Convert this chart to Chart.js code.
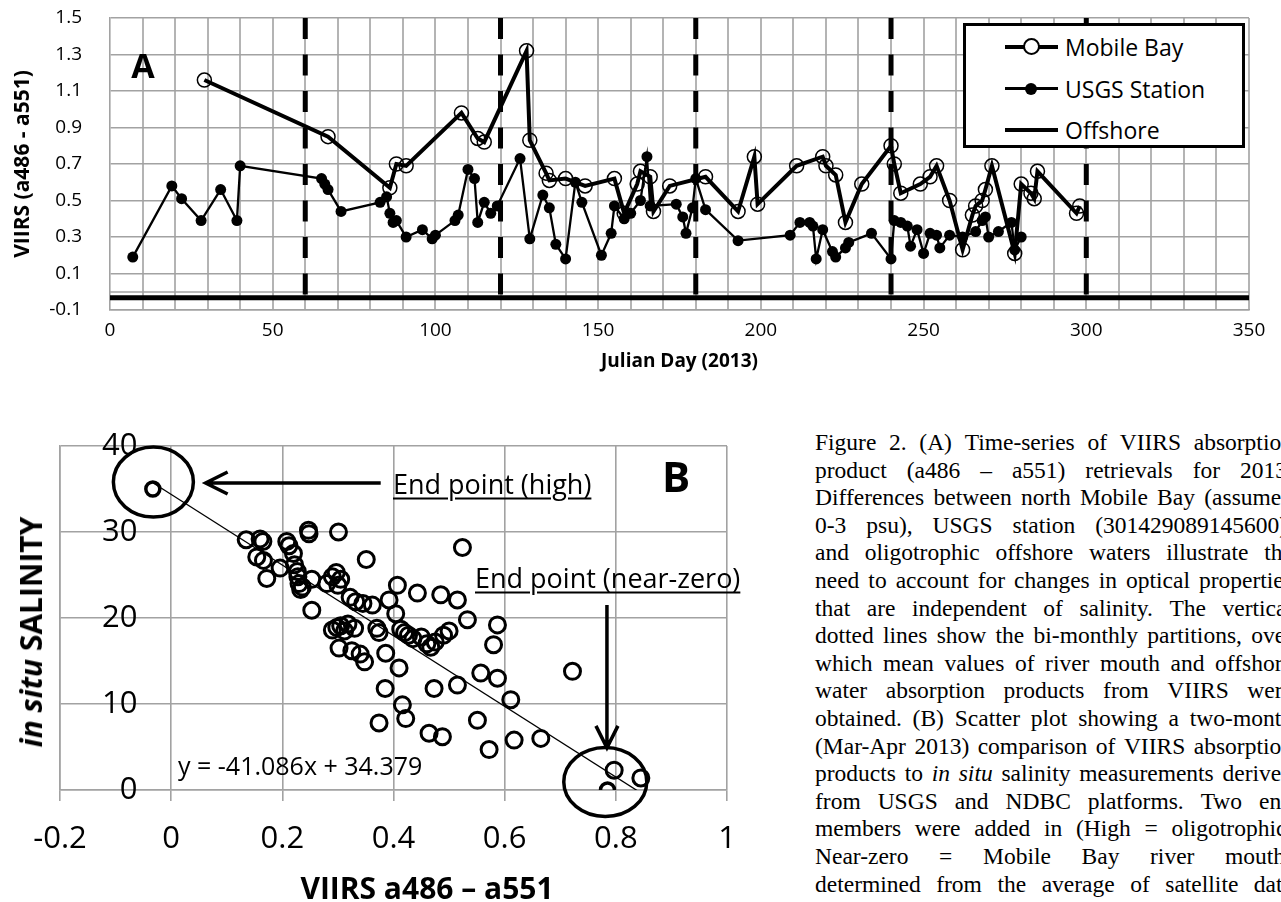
<!DOCTYPE html>
<html>
<head>
<meta charset="utf-8">
<script src="https://cdn.jsdelivr.net/npm/chart.js@4.4.0/dist/chart.umd.min.js"></script>
<style>
  body { margin: 0; width: 1281px; height: 902px; overflow: hidden; background: #fff; position: relative; font-family: "Open Sans", sans-serif; color: #000; }
  canvas { position: absolute; left: 0; }
  #chartA { top: 0; }
  #chartB { top: 400px; }
  .lbl { position: absolute; white-space: nowrap; line-height: 1; }
  #legendA { position: absolute; left: 963px; top: 23px; width: 282px; height: 125px; box-sizing: border-box; border: 3px solid #000; background: #fff; }
  .leg-row { position: absolute; left: 0; width: 100%; height: 30px; }
  .leg-line { position: absolute; left: 39px; width: 53px; background: #000; }
  .leg-dot { position: absolute; border-radius: 50%; box-sizing: border-box; }
  .leg-text { position: absolute; left: 99px; top: 0; font-size: 23px; line-height: 30px; }
  #caption { position: absolute; left: 815px; top: 429px; font-family: "Liberation Serif", serif; font-size: 23.5px; }
  .cap-line { display: flex; justify-content: space-between; width: 478px; height: 27.6px; line-height: 27.6px; white-space: nowrap; }
</style>
</head>
<body>
<canvas id="chartA" width="1281" height="380"></canvas>
<canvas id="chartB" width="780" height="502"></canvas>

<div class="lbl" style="left:143px; top:65px; transform:translate(-50%,-50%); font-weight:700; font-size:34px;">A</div>

<div id="legendA">
  <div class="leg-row" style="top:6px;">
    <div class="leg-line" style="top:13px; height:4px;"></div>
    <div class="leg-dot" style="left:57px; top:6px; width:17px; height:17px; border:2px solid #000; background:#fff;"></div>
    <div class="leg-text">Mobile Bay</div>
  </div>
  <div class="leg-row" style="top:48px;">
    <div class="leg-line" style="top:13px; height:3px;"></div>
    <div class="leg-dot" style="left:59px; top:9px; width:12px; height:12px; background:#000;"></div>
    <div class="leg-text">USGS Station</div>
  </div>
  <div class="leg-row" style="top:89px;">
    <div class="leg-line" style="top:13px; height:4px;"></div>
    <div class="leg-text">Offshore</div>
  </div>
</div>

<div class="lbl" style="left:31px; top:632px; transform:translate(-50%,-50%) rotate(-90deg); font-weight:700; font-size:30px;"><i>in situ</i> SALINITY</div>
<div class="lbl" style="left:427px; top:888px; transform:translate(-50%,-50%); font-weight:700; font-size:30px;">VIIRS a486 – a551</div>
<div class="lbl" style="left:393px; top:483px; transform:translateY(-50%); font-size:27px; text-decoration:underline; text-underline-offset:4px;">End point (high)</div>
<div class="lbl" style="left:475px; top:577px; transform:translateY(-50%); font-size:27px; text-decoration:underline; text-underline-offset:4px;">End point (near-zero)</div>
<div class="lbl" style="left:676px; top:476px; transform:translate(-50%,-50%); font-weight:700; font-size:42px;">B</div>
<div class="lbl" style="left:178px; top:765px; transform:translateY(-50%); font-size:25px;">y = -41.086x + 34.379</div>

<div id="caption"></div>

<script>
// ---- panel A: VIIRS absorption time series (Julian day, a486 - a551)
const mbDays = [29, 67, 86, 88, 91, 108, 113, 115, 128, 129, 134, 135, 140, 146, 155, 158, 162, 163, 166, 167,
  172, 183, 193, 198, 199, 211, 219, 220, 223, 226, 231, 240, 241, 243, 249, 252, 254, 258, 262, 265,
  266, 268, 269, 271, 278, 280, 283, 284, 285, 297, 298];
const mbValues = [1.16, 0.85, 0.57, 0.70, 0.69, 0.98, 0.84, 0.82, 1.32, 0.83, 0.65, 0.61, 0.62, 0.58, 0.62, 0.43, 0.59, 0.66, 0.63, 0.44,
  0.58, 0.63, 0.44, 0.74, 0.48, 0.69, 0.74, 0.69, 0.64, 0.38, 0.59, 0.80, 0.70, 0.54, 0.59, 0.63, 0.69, 0.50, 0.23, 0.42,
  0.47, 0.50, 0.56, 0.69, 0.21, 0.59, 0.54, 0.51, 0.66, 0.43, 0.47];

const usgsDays = [7, 19, 22, 28, 34, 39, 40, 65, 66, 67, 71, 83, 85, 86, 87, 88, 91, 96, 99, 100,
  106, 107, 110, 112, 113, 115, 117, 119, 126, 129, 133, 135, 137, 140, 143, 145, 151, 154, 155, 158,
  160, 163, 165, 166, 174, 176, 177, 179, 180, 183, 193, 209, 212, 215, 216, 217, 219, 222, 223, 226,
  227, 234, 240, 241, 243, 245, 246, 248, 250, 252, 254, 255, 258, 262, 266, 268, 269, 270, 273, 277,
  278, 280];
const usgsValues = [0.19, 0.58, 0.51, 0.39, 0.56, 0.39, 0.69, 0.62, 0.59, 0.56, 0.44, 0.49, 0.52, 0.43, 0.38, 0.39, 0.30, 0.34, 0.29, 0.31,
  0.39, 0.42, 0.67, 0.62, 0.38, 0.49, 0.43, 0.47, 0.73, 0.29, 0.53, 0.46, 0.26, 0.18, 0.60, 0.49, 0.20, 0.32, 0.47, 0.40,
  0.43, 0.50, 0.74, 0.47, 0.48, 0.41, 0.32, 0.46, 0.62, 0.45, 0.28, 0.31, 0.38, 0.38, 0.36, 0.18, 0.34, 0.22, 0.19, 0.24,
  0.27, 0.32, 0.18, 0.39, 0.38, 0.36, 0.25, 0.34, 0.21, 0.32, 0.31, 0.24, 0.31, 0.30, 0.33, 0.39, 0.41, 0.30, 0.33, 0.38,
  0.23, 0.30];

const offshoreDays = [0, 350];
const offshoreValues = [-0.033, -0.033];

const partitionDays = [60, 120, 180, 240, 300];   // bi-monthly partitions (dashed)

const dayTickLabels = [0, 50, 100, 150, 200, 250, 300, 350];
const viirsTicks = [-0.1, 0.1, 0.3, 0.5, 0.7, 0.9, 1.1, 1.3, 1.5];

// ---- panel B: salinity vs VIIRS a486 - a551 (Mar-Apr 2013)
const salinityX = [0.135, 0.160, 0.165, 0.154, 0.166, 0.172, 0.196, 0.208, 0.212, 0.220,
  0.222, 0.227, 0.230, 0.233, 0.228, 0.236, 0.247, 0.248, 0.253, 0.253,
  0.280, 0.290, 0.297, 0.300, 0.305, 0.301, 0.290, 0.298, 0.305, 0.312,
  0.318, 0.330, 0.302, 0.325, 0.340, 0.348, 0.322, 0.332, 0.345, 0.362,
  0.351, 0.370, 0.374, 0.386, 0.392, 0.404, 0.407, 0.410, 0.413, 0.420,
  0.427, 0.435, 0.443, 0.450, 0.460, 0.467, 0.475, 0.485, 0.490, 0.500,
  0.515, 0.524, 0.533, 0.580, 0.587, 0.557, 0.587, 0.473, 0.515, 0.611,
  0.722, 0.374, 0.416, 0.422, 0.551, 0.464, 0.488, 0.572, 0.617, 0.665,
  0.385, 0.797, 0.845];
const salinityY = [29.1, 29.2, 28.9, 27.1, 26.7, 24.6, 25.8, 28.9, 28.4, 27.5,
  26.2, 25.4, 24.0, 23.3, 24.8, 23.6, 30.2, 29.8, 24.5, 20.9,
  24.0, 24.8, 25.3, 23.8, 24.5, 30.0, 18.6, 18.9, 19.1, 18.5,
  19.3, 18.8, 16.5, 16.2, 15.8, 14.9, 22.4, 21.9, 21.7, 21.5,
  26.8, 18.8, 18.3, 15.9, 22.1, 20.5, 23.8, 14.2, 18.7, 18.3,
  18.0, 17.6, 22.9, 17.8, 17.0, 16.6, 17.2, 22.7, 18.0, 18.5,
  22.1, 28.2, 19.8, 16.9, 19.2, 13.6, 13.0, 11.8, 12.2, 10.5,
  13.8, 7.8, 9.9, 8.3, 8.1, 6.6, 6.2, 4.7, 5.8, 6.0,
  11.8, 2.3, 1.4];
const endMemberX = [-0.033, 0.785];   // high (oligotrophic), near-zero (river mouth)
const endMemberY = [35.0, 0.0];
const trendSlope = -41.086;
const trendIntercept = 34.379;

const viirsBTicks = [-0.2, 0, 0.2, 0.4, 0.6, 0.8, 1];
const salinityTicks = [0, 10, 20, 30, 40];

// ---- caption
const captionLines = [
  'Figure 2. (A) Time-series of VIIRS absorption',
  'product (a486 – a551) retrievals for 2013.',
  'Differences between north Mobile Bay (assumed',
  '0-3 psu), USGS station (301429089145600),',
  'and oligotrophic offshore waters illustrate the',
  'need to account for changes in optical properties',
  'that are independent of salinity. The vertical',
  'dotted lines show the bi-monthly partitions, over',
  'which mean values of river mouth and offshore',
  'water absorption products from VIIRS were',
  'obtained. (B) Scatter plot showing a two-month',
  '(Mar-Apr 2013) comparison of VIIRS absorption',
  'products to _in _situ salinity measurements derived',
  'from USGS and NDBC platforms. Two end',
  'members were added in (High = oligotrophic;',
  'Near-zero = Mobile Bay river mouth)',
  'determined from the average of satellite data'
];

const cap = document.getElementById('caption');
captionLines.forEach(function (line) {
  var row = document.createElement('div');
  row.className = 'cap-line';
  line.split(' ').forEach(function (w) {
    var s = document.createElement(w[0] === '_' ? 'i' : 'span');
    s.textContent = w[0] === '_' ? w.slice(1) : w;
    row.appendChild(s);
  });
  cap.appendChild(row);
});

const GRID = '#a2a2a2';
const toXY = (xs, ys) => xs.map((x, i) => ({ x: x, y: ys[i] }));

//minor vertical grid (every 10 days) + the zero axis line of the excel chart
const gridA = {
  id: 'gridA',
  beforeDatasetsDraw(chart) {
    const { ctx, chartArea: a, scales: { x, y } } = chart;
    ctx.save();
    ctx.strokeStyle = GRID;
    ctx.lineWidth = 1.6;
    ctx.beginPath();
    for (var d = 10; d <= 350; d += 10) {
      var px = Math.round(x.getPixelForValue(d));
      ctx.moveTo(px, a.top);
      ctx.lineTo(px, a.bottom);
    }
    var py = Math.round(y.getPixelForValue(0));
    ctx.moveTo(a.left, py);
    ctx.lineTo(a.right, py);
    ctx.stroke();
    ctx.restore();
  }
};

var partitionSets = partitionDays.map(function (d) {
  return {
    data: [{ x: d, y: viirsTicks[viirsTicks.length - 1] }, { x: d, y: viirsTicks[0] }],
    showLine: true, borderColor: '#000', borderWidth: 5, borderDash: [21, 15.5],
    pointRadius: 0, order: 5
  };
});

new Chart(document.getElementById('chartA'), {
  type: 'scatter',
  data: {
    datasets: [{
      label: 'Mobile Bay',
      data: toXY(mbDays, mbValues),
      showLine: true, borderColor: '#000', borderWidth: 4,
      pointRadius: 7, pointBorderWidth: 1.5, pointBorderColor: '#000',
      pointBackgroundColor: 'rgba(0,0,0,0)', order: 1
    }, {
      label: 'USGS Station',
      data: toXY(usgsDays, usgsValues),
      showLine: true, borderColor: '#000', borderWidth: 2.3,
      pointRadius: 5.5, pointBorderWidth: 0, pointBackgroundColor: '#000', order: 2
    }, {
      label: 'Offshore',
      data: toXY(offshoreDays, offshoreValues),
      showLine: true, borderColor: '#000', borderWidth: 5, pointRadius: 0, order: 3
    }].concat(partitionSets)
  },
  options: {
    responsive: false,
    animation: false,
    layout: { padding: { top: 18, right: 32, left: 0, bottom: 0 } },
    plugins: { legend: { display: false }, tooltip: { enabled: false } },
    scales: {
      x: {
        type: 'linear', min: 0, max: 350,
        afterBuildTicks: function (scale) {
          scale.ticks = dayTickLabels.map(function (v) { return { value: v }; });
        },
        afterFit: function (scale) { scale.height = 70; },
        grid: { display: false },
        border: { color: GRID, width: 1.6 },
        ticks: {
          autoSkip: false, maxRotation: 0, padding: 1,
          color: '#000', font: { family: 'Open Sans', size: 19 }
        },
        title: {
          display: true, text: 'Julian Day (2013)', color: '#000',
          font: { family: 'Open Sans', size: 19, weight: 'bold' },
          padding: { top: 0, bottom: 7 }
        }
      },
      y: {
        type: 'linear', min: -0.1, max: 1.5,
        afterBuildTicks: function (scale) {
          scale.ticks = viirsTicks.map(function (v) { return { value: v }; });
        },
        afterFit: function (scale) {
          scale.width = 110;
          scale.paddingTop = 0;
          scale.paddingBottom = 0;
        },
        grid: { color: GRID, lineWidth: 1.6, drawTicks: false },
        border: { color: GRID, width: 1.6 },
        ticks: {
          padding: 28, color: '#000', font: { family: 'Open Sans', size: 19 },
          callback: function (v) { return v.toFixed(1); }
        },
        title: {
          display: true, text: 'VIIRS (a486 - a551)', color: '#000',
          font: { family: 'Open Sans', size: 21, weight: 'bold' },
          padding: { top: 10, bottom: 0 }
        }
      }
    }
  },
  plugins: [gridA]
});

// ---- panel B annotations: circled end members and arrows (data units)
const bMarks = {
  id: 'bMarks',
  afterDatasetsDraw(chart) {
    const { ctx, scales: { x, y } } = chart;
    ctx.save();
    ctx.strokeStyle = '#000';
    ctx.lineWidth = 3.5;
    function ellipse(vx, vy, rx, ry) {
      ctx.beginPath();
      ctx.ellipse(x.getPixelForValue(vx), y.getPixelForValue(vy), rx, ry, 0, 0, Math.PI * 2);
      ctx.stroke();
    }
    function arrow(x0, y0, x1, y1) {
      var ax = x.getPixelForValue(x0), ay = y.getPixelForValue(y0);
      var bx = x.getPixelForValue(x1), by = y.getPixelForValue(y1);
      var ang = Math.atan2(by - ay, bx - ax);
      ctx.beginPath();
      ctx.moveTo(ax, ay);
      ctx.lineTo(bx, by);
      ctx.moveTo(bx - 22 * Math.cos(ang) + 11 * Math.sin(ang), by - 22 * Math.sin(ang) - 11 * Math.cos(ang));
      ctx.lineTo(bx, by);
      ctx.lineTo(bx - 22 * Math.cos(ang) - 11 * Math.sin(ang), by - 22 * Math.sin(ang) + 11 * Math.cos(ang));
      ctx.stroke();
    }
    ellipse(-0.032, 35.8, 40, 35);
    ellipse(0.781, 0.93, 41.5, 34.5);
    arrow(0.377, 35.7, 0.062, 35.7);
    arrow(0.784, 21.5, 0.784, 4.9);
    ctx.restore();
  }
};

var allX = salinityX.concat(endMemberX);
var trendX = [Math.min.apply(null, allX), Math.max.apply(null, allX)];

new Chart(document.getElementById('chartB'), {
  type: 'scatter',
  data: {
    datasets: [{
      data: toXY(salinityX, salinityY),
      pointRadius: 8, pointBorderWidth: 3, pointBorderColor: '#000',
      pointBackgroundColor: 'rgba(0,0,0,0)', order: 1
    }, {
      data: toXY(endMemberX, endMemberY),
      pointRadius: 7, pointBorderWidth: 3.5, pointBorderColor: '#000',
      pointBackgroundColor: 'rgba(0,0,0,0)', order: 1
    }, {
      data: trendX.map(function (v) { return { x: v, y: trendSlope * v + trendIntercept }; }),
      showLine: true, borderColor: '#000', borderWidth: 1.3, pointRadius: 0, order: 2
    }]
  },
  options: {
    responsive: false,
    animation: false,
    layout: { padding: { top: 46, right: 53, left: 0, bottom: 0 } },
    plugins: { legend: { display: false }, tooltip: { enabled: false } },
    scales: {
      x: {
        type: 'linear', min: -0.2, max: 1,
        afterBuildTicks: function (scale) {
          scale.ticks = viirsBTicks.map(function (v) { return { value: v }; });
        },
        afterFit: function (scale) {
          scale.height = 112;
          scale.paddingLeft = 0;
          scale.paddingRight = 0;
        },
        grid: { color: GRID, lineWidth: 1.6, drawTicks: true, tickLength: 11 },
        border: { color: GRID, width: 1.6 },
        ticks: {
          maxRotation: 0, padding: 20, color: '#000',
          font: { family: 'Open Sans', size: 31 },
          callback: function (v) { return String(v); }
        }
      },
      y: {
        type: 'linear', min: 0, max: 40,
        afterBuildTicks: function (scale) {
          scale.ticks = salinityTicks.map(function (v) { return { value: v }; });
        },
        afterFit: function (scale) {
          scale.width = 60;
          scale.paddingTop = 0;
          scale.paddingBottom = 0;
        },
        grid: { color: GRID, lineWidth: 1.6, drawTicks: false },
        border: { color: GRID, width: 1.6 },
        ticks: {
          mirror: true, crossAlign: 'far', padding: 42, color: '#000',
          font: { family: 'Open Sans', size: 31 }
        }
      }
    }
  },
  plugins: [bMarks]
});
</script>
</body>
</html>
